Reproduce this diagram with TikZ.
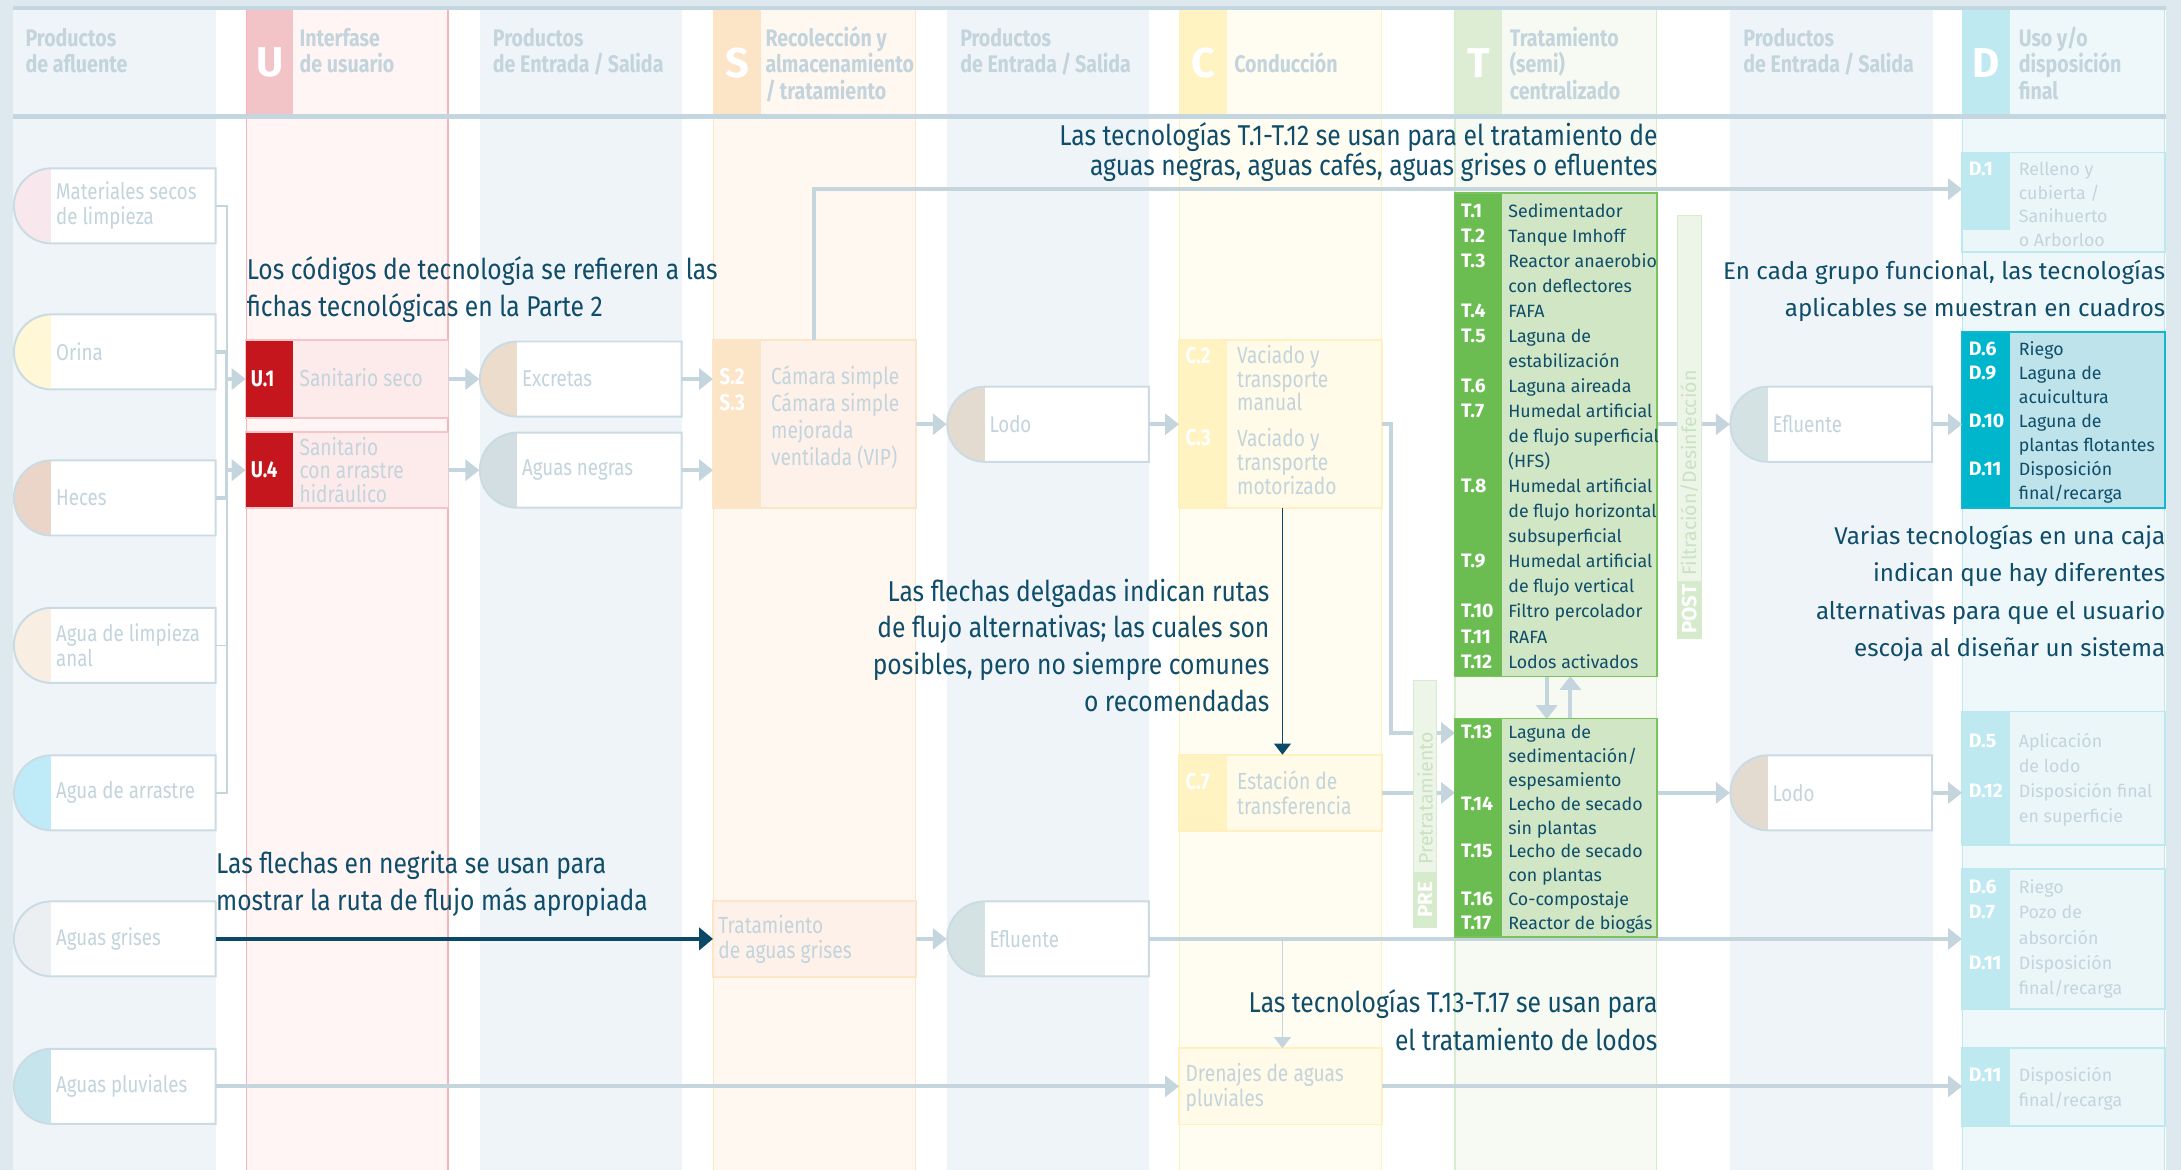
\documentclass[tikz,border=0pt]{standalone}
\usepackage{fontspec}
\setmainfont{Fira Sans}
\newfontfamily\condfont{Fira Sans}[FakeStretch=0.82]
\newfontfamily\notefont{Fira Sans}[FakeStretch=0.86]
\usetikzlibrary{arrows.meta,fit}

% palette
\definecolor{frame}{HTML}{DDE8EF}
\definecolor{rulec}{HTML}{C4D6DF}
\definecolor{prodbg}{HTML}{EEF4F8}
\definecolor{flow}{HTML}{C4D5DD}
\definecolor{ink}{HTML}{0F4D6A}
\definecolor{inkarrow}{HTML}{0B4A66}
\definecolor{pale}{HTML}{C3D4DD}
\definecolor{prodline}{HTML}{CADBE3}
\definecolor{uhead}{HTML}{F2C4C7}\definecolor{ubg}{HTML}{FFF5F4}\definecolor{uline}{HTML}{F5B5B8}
\definecolor{ucode}{HTML}{C4161C}\definecolor{ufill}{HTML}{FDEBEB}\definecolor{uboxline}{HTML}{F6C4C6}
\definecolor{shead}{HTML}{FCE4C7}\definecolor{sbg}{HTML}{FFF8F1}\definecolor{sline}{HTML}{FDE5C8}
\definecolor{sfill}{HTML}{FDF1EA}
\definecolor{chead}{HTML}{FFF3C2}\definecolor{cbg}{HTML}{FFFDF1}\definecolor{cline}{HTML}{FFF0BD}
\definecolor{cfill}{HTML}{FFFBE8}
\definecolor{thead}{HTML}{DCEDD4}\definecolor{tbg}{HTML}{F6FAF3}\definecolor{tline}{HTML}{D7EBCE}
\definecolor{tcode}{HTML}{6BBD51}\definecolor{tfill}{HTML}{D0E6C4}\definecolor{tboxline}{HTML}{79C25C}
\definecolor{prelight}{HTML}{ECF5E8}\definecolor{predark}{HTML}{D6EACC}\definecolor{pretext}{HTML}{CBE2C2}
\definecolor{dhead}{HTML}{BFE9F1}\definecolor{dbg}{HTML}{EEF8FA}\definecolor{dline}{HTML}{BCE8F0}
\definecolor{dcode}{HTML}{00B6CD}\definecolor{dfill}{HTML}{BFE3EA}\definecolor{dboxline}{HTML}{14B6CE}
\definecolor{dpale}{HTML}{EBF6F9}
% product caps
\definecolor{capmat}{HTML}{F8E8EE}\definecolor{caporina}{HTML}{FFF7D6}\definecolor{capheces}{HTML}{EBD5C8}
\definecolor{capanal}{HTML}{F8EEE2}\definecolor{caparr}{HTML}{BFEAF7}\definecolor{capgris}{HTML}{ECEFF1}
\definecolor{cappluv}{HTML}{C5E4EC}\definecolor{capexc}{HTML}{ECDCCC}\definecolor{capneg}{HTML}{D3DEE2}
\definecolor{caplodo}{HTML}{E3DAD0}\definecolor{capefl}{HTML}{D4E2E3}

\tikzset{
  every node/.style={inner sep=0pt},
  hdr/.style={font=\condfont\bfseries\fontsize{8.6}{9}\selectfont, text=pale, anchor=mid west},
  bigletter/.style={font=\bfseries\fontsize{15}{15}\selectfont, text=white, anchor=center},
  note/.style={font=\notefont\fontsize{10.3}{12}\selectfont, text=ink},
  notel/.style={note, anchor=mid west},
  noter/.style={note, anchor=mid east},
  wnoter/.style={font=\fontsize{8.7}{10}\selectfont, text=ink, anchor=mid east},
  plabel/.style={font=\condfont\fontsize{8.2}{9}\selectfont, text=pale, anchor=west, align=left},
  blabel/.style={font=\condfont\fontsize{8.4}{9}\selectfont, text=pale, anchor=mid west},
  bcode/.style={font=\condfont\bfseries\fontsize{8.2}{8}\selectfont, text=white, anchor=mid west},
  tcodetext/.style={font=\bfseries\fontsize{7}{7}\selectfont, text=white, anchor=mid west},
  tlabel/.style={font=\fontsize{6.4}{7}\selectfont, text=ink, anchor=mid west},
  dlabel/.style={font=\fontsize{6.4}{7}\selectfont, text=pale, anchor=mid west},
  flowline/.style={draw=flow, line width=1.5pt},
  trunk/.style={draw=flow, line width=1.2pt},
  thinline/.style={draw=flow, line width=0.6pt},
  flowarrow/.style={flowline, -{Triangle[length=5pt,width=7.5pt]}},
  thinarrow/.style={thinline, -{Triangle[length=4pt,width=6pt]}},
  boldarrow/.style={draw=inkarrow, line width=1.5pt, -{Triangle[length=5pt,width=8pt]}},
  thindark/.style={draw=inkarrow, line width=0.6pt, -{Triangle[length=4pt,width=6pt]}},
}

% column: left x, background, border, header strip colour, letter
\newcommand\techcol[5]{%
  \fill[#2] (#1,4) rectangle (#1+145,841);
  \fill[#4] (#1,4) rectangle (#1+34,82);
  \draw[#3, line width=0.5pt] (#1,4) -- (#1,841) (#1+145,4) -- (#1+145,841);
  \node[bigletter] (hd-#5) at (#1+17,45) {#5};
}
% product: name, left x, centre y, cap colour, label
\newcommand\prodbox[5]{%
  \fill[#4] (#2+27,#3+27) arc[start angle=90,end angle=270,radius=27] -- cycle;
  \fill[white] (#2+27,#3-27) rectangle (#2+145,#3+27);
  \draw[prodline,line width=0.7pt] (#2+145,#3-27) -- (#2+27,#3-27)
     arc[start angle=270,end angle=90,radius=27] -- (#2+145,#3+27) -- cycle;
  \node[fit={(#2,#3-27) (#2+145,#3+27)}] (#1) {};
  \node[plabel] (#1-l) at (#2+30,#3) {#5};
}
% technology box: name, left, top, bottom, strip, fill, border
\newcommand\techbox[7]{%
  \node[fit={(#2,#3) (#2+145,#4)}, fill=#6] (#1) {};
  \fill[#5] (#2,#3) rectangle (#2+34,#4);
  \draw[#7, line width=0.6pt] (#1.north west) rectangle (#1.south east);
}
% text lines at a constant step
\newcommand\lns[6]{%
  \foreach \s [count=\i from 0] in {#6}{\node[#5] (#1-\i) at ({#2},{#3+\i*#4}) {\s};}}
% codes at given heights
\newcommand\codes[4]{%
  \foreach \yy/\cc [count=\i] in {#4}{\node[#3] (#1-\i) at ({#2},\yy) {\cc};}}

\begin{document}
\begin{tikzpicture}[x=0.5pt,y=-0.5pt]
\useasboundingbox (0,0) rectangle (1568,841);
\fill[white] (0,0) rectangle (1568,841);

% ---------- columns ----------
\fill[prodbg] (9,4) rectangle (155,841);
\fill[prodbg] (345,4) rectangle (490,841);
\fill[prodbg] (681,4) rectangle (826,841);
\fill[prodbg] (1244,4) rectangle (1390,841);
\techcol{177}{ubg}{uline}{uhead}{U}
\techcol{513}{sbg}{sline}{shead}{S}
\techcol{848}{cbg}{cline}{chead}{C}
\techcol{1046}{tbg}{tline}{thead}{T}
\techcol{1411}{dbg}{dline}{dhead}{D}
\fill[frame] (0,0) rectangle (1568,4);
\fill[frame] (0,0) rectangle (9,841);
\fill[frame] (1557,0) rectangle (1568,841);
\fill[rulec] (9,4) rectangle (1557,7.5);
\fill[rulec] (9,82) rectangle (1557,85.5);

% ---------- header texts ----------
\lns{h1}{18}{28}{19}{hdr}{Productos,de afluente}
\lns{h2}{215}{28}{19}{hdr}{Interfase,de usuario}
\lns{h3}{354}{28}{19}{hdr}{Productos,de Entrada\,/\,Salida}
\lns{h4}{550}{28}{19}{hdr}{Recolección y,almacenamiento,/\,tratamiento}
\lns{h5}{690}{28}{19}{hdr}{Productos,de Entrada\,/\,Salida}
\lns{h6}{887}{47}{19}{hdr}{Conducción}
\lns{h7}{1085}{28}{19}{hdr}{Tratamiento,(semi),centralizado}
\lns{h8}{1253}{28}{19}{hdr}{Productos,de Entrada\,/\,Salida}
\lns{h9}{1451}{28}{19}{hdr}{Uso y/o,disposición,final}

% ---------- products ----------
\prodbox{mat}{10}{148}{capmat}{Materiales secos\\de limpieza}
\prodbox{orina}{10}{253}{caporina}{Orina}
\prodbox{heces}{10}{358}{capheces}{Heces}
\prodbox{anal}{10}{464}{capanal}{Agua de limpieza\\anal}
\prodbox{arrastre}{10}{570}{caparr}{Agua de arrastre}
\prodbox{grises}{10}{675}{capgris}{Aguas grises}
\prodbox{pluv}{10}{781}{cappluv}{Aguas pluviales}
\prodbox{excretas}{345}{272.5}{capexc}{Excretas}
\prodbox{negras}{345}{338}{capneg}{Aguas negras}
\prodbox{lodoa}{681}{305}{caplodo}{Lodo}
\prodbox{eflb}{681}{675}{capefl}{Efluente}
\prodbox{eflc}{1244}{305}{capefl}{Efluente}
\prodbox{lodod}{1244}{570}{caplodo}{Lodo}

% ---------- technology boxes ----------
\techbox{u1}{177}{245}{300}{ucode}{ufill}{uboxline}
\techbox{u4}{177}{311}{365}{ucode}{ufill}{uboxline}
\techbox{s23}{513}{245}{365}{shead}{sfill}{sline}
\techbox{sgw}{513}{648}{702}{sfill}{sfill}{sline}
\techbox{c23}{848}{245}{365}{chead}{cfill}{cline}
\techbox{c7}{848}{543}{597}{chead}{cfill}{cline}
\techbox{dren}{848}{754}{808}{cfill}{cfill}{cline}
\techbox{d1}{1411}{110}{181}{dpale}{dpale}{dline}
\fill[dhead] (1411,110) rectangle (1445,165);
\techbox{dmain}{1411}{239}{365}{dcode}{dfill}{dboxline}
\techbox{dlodo}{1411}{512}{607}{dhead}{dpale}{dline}
\techbox{dgris}{1411}{625}{725}{dhead}{dpale}{dline}
\techbox{dpluv}{1411}{754}{809}{dhead}{dpale}{dline}

% ---------- connectors ----------
\coordinate (gx) at (163,0);
\draw[thinline] (mat.east) -- (mat.east -| gx) -- (orina.east -| gx);
\draw[trunk] (orina.east) -- (orina.east -| gx) -- (heces.east -| gx) -- (heces.east);
\draw[thinline] (heces.east -| gx) -- (arrastre.east -| gx) -- (arrastre.east);
\draw[thinline] (anal.east) -- (anal.east -| gx);
\draw[flowarrow] (u1.west -| gx) -- (u1.west);
\draw[flowarrow] (u4.west -| gx) -- (u4.west);
\draw[flowarrow] (u1.east) -- (excretas.west);
\draw[flowarrow] (u4.east) -- (negras.west);
\draw[flowarrow] (excretas.east) -- (excretas.east -| s23.west);
\draw[flowarrow] (negras.east) -- (negras.east -| s23.west);
\draw[flowarrow] (s23.east) -- (lodoa.west);
\draw[flowarrow] (lodoa.east) -- (c23.west);
\coordinate (sup) at (585,136);
\draw[flowarrow] (s23.north -| sup) -- (sup) -- (sup -| d1.west);
\coordinate (tx) at (1046,0);
\coordinate (cbend) at (1000,527);
\draw[flowarrow] (c23.east) -- (c23.east -| cbend) -- (cbend) -- (cbend -| tx);
\draw[flowarrow] (c7.east) -- (c7.east -| tx);
\draw[flowarrow] (1112,486) -- (1112,517);
\draw[flowarrow] (1129,517) -- (1129,486);
\draw[flowarrow] (1192,305) -- (eflc.west);
\draw[flowarrow] (eflc.east) -- (eflc.east -| dmain.west);
\draw[flowarrow] (1192,570) -- (lodod.west);
\draw[flowarrow] (lodod.east) -- (lodod.east -| dlodo.west);
\draw[boldarrow] (grises.east) -- (sgw.west);
\draw[flowarrow] (sgw.east) -- (eflb.west);
\draw[flowarrow] (eflb.east) -- (eflb.east -| dgris.west);
\coordinate (gb) at (922,675);
\draw[thinarrow] (gb) -- (gb |- dren.north);
\draw[flowarrow] (pluv.east) -- (pluv.east -| dren.west);
\draw[flowarrow] (dren.east) -- (dren.east -| dpluv.west);
\draw[thindark] (c23.south -| gb) -- (c7.north -| gb);

% ---------- treatment boxes ----------
\techbox{ta}{1046}{139}{486}{tcode}{tfill}{tboxline}
\techbox{tb}{1046}{517}{673}{tcode}{tfill}{tboxline}

% pre- and post-treatment strips
\fill[prelight] (1016,489) rectangle (1033,627);
\fill[predark] (1016,627) rectangle (1033,667);
\draw[tline, line width=0.4pt] (1016,489) rectangle (1033,667);
\node[rotate=90, font=\fontsize{7}{7}\selectfont, text=pretext] (pre-t) at (1024.5,574) {Pretratamiento};
\node[rotate=90, font=\bfseries\fontsize{7.4}{7}\selectfont, text=white] (pre-b) at (1024.5,647) {PRE};
\fill[prelight] (1206,155) rectangle (1223,418);
\fill[predark] (1206,418) rectangle (1223,459);
\draw[tline, line width=0.4pt] (1206,155) rectangle (1223,459);
\node[rotate=90, font=\fontsize{7}{7}\selectfont, text=pretext] (post-t) at (1214.5,340) {Filtración/Desinfección};
\node[rotate=90, font=\bfseries\fontsize{7.4}{7}\selectfont, text=white] (post-b) at (1214.5,438) {POST};

% ---------- box texts ----------
\codes{cu1}{180}{bcode}{272.5/U.1}
\lns{lu1}{215}{272.5}{17}{blabel}{Sanitario seco}
\codes{cu4}{180}{bcode}{338/U.4}
\lns{lu4}{215}{322}{17}{blabel}{Sanitario,con arrastre,hidráulico}
\codes{cs}{517}{bcode}{271/S.2,290/S.3}
\lns{ls}{554}{271}{19.4}{blabel}{Cámara simple,Cámara simple,mejorada,ventilada (VIP)}
\lns{lsg}{516}{666}{18}{blabel}{Tratamiento,de aguas grises}
\codes{cc}{852}{bcode}{256/C.2,315/C.3}
\lns{lca}{889}{256}{17}{blabel}{Vaciado y,transporte,manual}
\lns{lcb}{889}{316}{17}{blabel}{Vaciado y,transporte,motorizado}
\codes{cc7}{852}{bcode}{562/C.7}
\lns{lc7}{889}{562}{18}{blabel}{Estación de,transferencia}
\lns{ldr}{852}{772}{18}{blabel}{Drenajes de aguas,pluviales}

\codes{ct}{1050}{tcodetext}{151/T.1,169/T.2,187/T.3,223/T.4,241/T.5,277/T.6,295/T.7,349/T.8,403/T.9,439/T.10,457/T.11,475/T.12}
\lns{lt}{1084}{151}{18}{tlabel}{Sedimentador,Tanque Imhoff,Reactor anaerobio,con deflectores,FAFA,Laguna de,estabilización,Laguna aireada,Humedal artificial,de flujo superficial,(HFS),Humedal artificial,de flujo horizontal,subsuperficial,Humedal artificial,de flujo vertical,Filtro percolador,RAFA,Lodos activados}
\codes{ctb}{1050}{tcodetext}{526/T.13,577.3/T.14,611.5/T.15,645.7/T.16,662.8/T.17}
\lns{ltb}{1084}{526}{17.1}{tlabel}{Laguna de,sedimentación/,espesamiento,Lecho de secado,sin plantas,Lecho de secado,con plantas,Co-compostaje,Reactor de biogás}

\codes{cd1}{1415}{tcodetext}{121/D.1}
\lns{ld1}{1451}{121}{17}{dlabel}{Relleno y,cubierta /,Sanihuerto,o Arborloo}
\codes{cdm}{1415}{tcodetext}{250/D.6,267.3/D.9,301.9/D.10,336.5/D.11}
\lns{ldm}{1451}{250}{17.3}{tlabel}{Riego,Laguna de,acuicultura,Laguna de,plantas flotantes,Disposición,final/recarga}
\codes{cdl}{1415}{tcodetext}{532/D.5,568/D.12}
\lns{ldl}{1451}{532}{18}{dlabel}{Aplicación,de lodo,Disposición final,en superficie}
\codes{cdg}{1415}{tcodetext}{637/D.6,655.3/D.7,691.8/D.11}
\lns{ldg}{1451}{637}{18.25}{dlabel}{Riego,Pozo de,absorción,Disposición,final/recarga}
\codes{cdp}{1415}{tcodetext}{772/D.11}
\lns{ldp}{1451}{772}{18}{dlabel}{Disposición,final/recarga}

% ---------- notes ----------
\lns{n1}{1192}{99}{22}{noter}{Las tecnologías T.1-T.12 se usan para el tratamiento de,{aguas negras, aguas cafés, aguas grises o efluentes}}
\lns{n2}{177}{196}{26.5}{notel}{Los códigos de tecnología se refieren a las,fichas tecnológicas en la Parte 2}
\lns{n3}{1557}{196}{26.5}{wnoter}{{En cada grupo funcional, las tecnologías},aplicables se muestran en cuadros}
\lns{n4}{913}{427}{26.3}{noter}{Las flechas delgadas indican rutas,{de flujo alternativas; las cuales son},{posibles, pero no siempre comunes},o recomendadas}
\lns{n5}{1557}{386}{27}{wnoter}{Varias tecnologías en una caja,indican que hay diferentes,alternativas para que el usuario,escoja al diseñar un sistema}
\lns{n6}{155}{623}{26.5}{notel}{Las flechas en negrita se usan para,mostrar la ruta de flujo más apropiada}
\lns{n7}{1192}{723}{27}{noter}{Las tecnologías T.13-T.17 se usan para,el tratamiento de lodos}
\end{tikzpicture}
\end{document}
